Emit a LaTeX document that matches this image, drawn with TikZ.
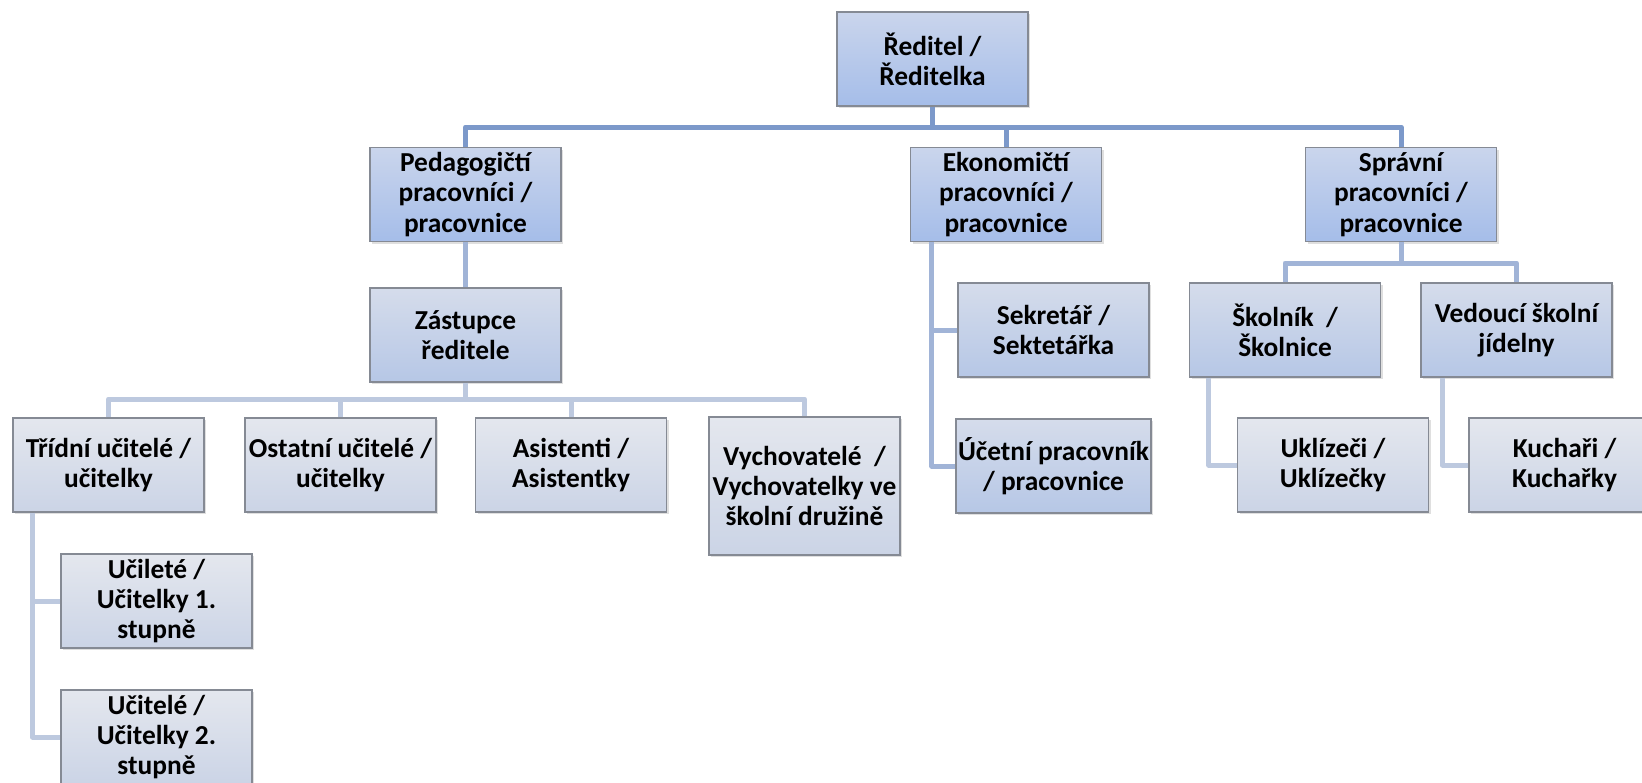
\documentclass[tikz,border=0pt]{standalone}
\usepackage{fontspec}
\setmainfont{Carlito}
\usetikzlibrary{shadows}
\definecolor{topA}{HTML}{CAD5EC}
\definecolor{botA}{HTML}{A5BDE9}
\definecolor{topB}{HTML}{D5DCEB}
\definecolor{botB}{HTML}{B6C7E6}
\definecolor{topC}{HTML}{E4E7EE}
\definecolor{botC}{HTML}{CBD4E6}
\definecolor{edgegray}{HTML}{858A94}
\definecolor{lineA}{HTML}{7C99CA}
\definecolor{lineB}{HTML}{A1B4D7}
\definecolor{lineC}{HTML}{BDC9DF}
\tikzset{
  orgbox/.style={rectangle, draw=edgegray, line width=0.6pt, minimum width=95.5pt, minimum height=47pt, inner sep=1pt, font=\bfseries\fontsize{13.7}{15.1}\selectfont, align=center, drop shadow={opacity=0.25, shadow xshift=1pt, shadow yshift=-1pt}},
  topnode/.style={orgbox, top color=topA, bottom color=botA},
  midnode/.style={orgbox, top color=topB, bottom color=botB},
  lownode/.style={orgbox, top color=topC, bottom color=botC},
  topline/.style={draw=lineA, line width=2.5pt, line join=round},
  midline/.style={draw=lineB, line width=2.5pt, line join=round},
  lowline/.style={draw=lineC, line width=2.5pt, line join=round}
}

\begin{document}
\begin{tikzpicture}[x=0.5pt, y=-0.5pt]
  \useasboundingbox (0,0) rectangle (1642,782);
  \clip (0,0) rectangle (1642,782);
  \fill[white] (0,0) rectangle (1642,782);

  % vedeni
  \node[topnode] (reditel) at (932.5,59) {Ředitel /\\Ředitelka};
  \node[topnode] (pedag) at (465.5,194.5) {Pedagogičtí\\pracovníci /\\pracovnice};
  \node[topnode] (ekon) at (1006,194.5) {Ekonomičtí\\pracovníci /\\pracovnice};
  \node[topnode] (sprav) at (1401,194.5) {Správní\\pracovníci /\\pracovnice};

  % pedagogicky usek
  \node[midnode] (zastup) at (465.5,335) {Zástupce\\ředitele};
  \node[lownode] (tridni) at (108.5,465) {Třídní učitelé /\\učitelky};
  \node[lownode] (ostatni) at (340.5,465) {Ostatní učitelé /\\učitelky};
  \node[lownode] (asist) at (571,465) {Asistenti /\\Asistentky};
  \node[lownode, minimum height=69pt] (vychov) at (804.5,486) {Vychovatelé~ /\\Vychovatelky ve\\školní družině};
  \node[lownode] (ucit1) at (156.5,601) {Učileté /\\Učitelky 1.\\stupně};
  \node[lownode] (ucit2) at (156.5,737) {Učitelé /\\Učitelky 2.\\stupně};

  % ekonomicky a spravni usek
  \node[midnode] (sekret) at (1053.5,330) {Sekretář /\\Sektetářka};
  \node[midnode] (ucetni) at (1053.5,466) {Účetní pracovník\\/ pracovnice};
  \node[midnode] (skolnik) at (1285,330) {Školník~ /\\Školnice};
  \node[midnode] (vedouci) at (1516.5,330) {Vedoucí školní\\jídelny};
  \node[lownode] (uklizeci) at (1333,465) {Uklízeči /\\Uklízečky};
  \node[lownode] (kuchari) at (1564.5,465) {Kuchaři /\\Kuchařky};

  % spojnice
  \coordinate (busA) at (932.5,127);
  \draw[topline] (reditel) -- (busA);
  \draw[topline] (pedag) |- (busA) -| (sprav);
  \draw[topline] (busA -| ekon) -- (ekon);

  \draw[midline] (pedag) -- (zastup);
  \coordinate (busB) at (465.5,399);
  \draw[lowline] (zastup) -- (busB);
  \draw[lowline] (tridni) |- (busB) -| (vychov);
  \draw[lowline] (busB -| ostatni) -- (ostatni);
  \draw[lowline] (busB -| asist) -- (asist);

  \coordinate (tleg) at ([xshift=10pt]tridni.south west);
  \draw[lowline] (tleg) |- (ucit2.west);
  \draw[lowline] (tleg |- ucit1.west) -- (ucit1.west);

  \coordinate (eleg) at ([xshift=11pt]ekon.south west);
  \draw[midline] (eleg) |- (ucetni.west);
  \draw[midline] (eleg |- sekret.west) -- (sekret.west);

  \coordinate (busC) at (1401,263);
  \draw[midline] (sprav) -- (busC);
  \draw[midline] (skolnik) |- (busC) -| (vedouci);
  \draw[lowline] ([xshift=10pt]skolnik.south west) |- (uklizeci.west);
  \draw[lowline] ([xshift=11pt]vedouci.south west) |- (kuchari.west);
\end{tikzpicture}
\end{document}
